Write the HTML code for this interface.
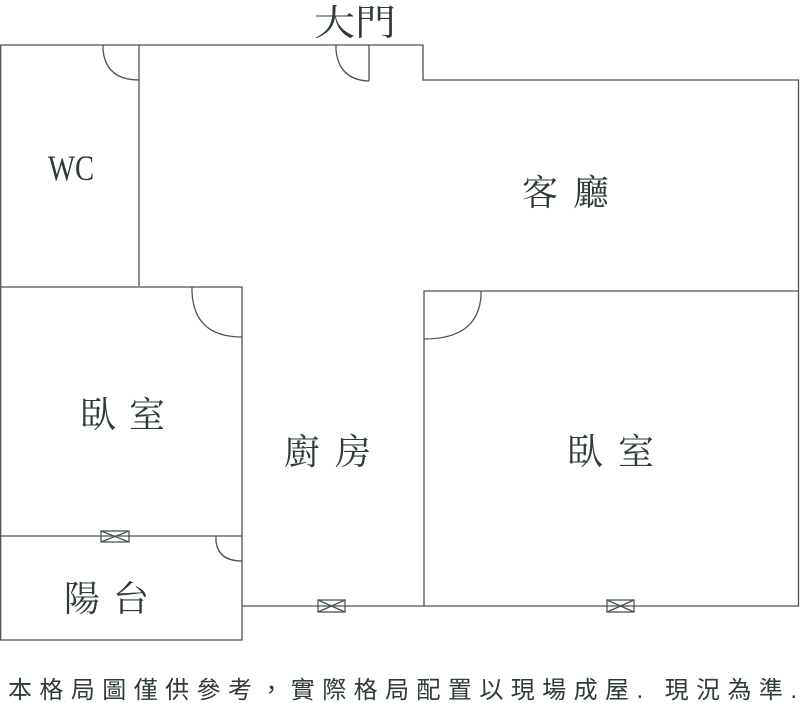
<!DOCTYPE html>
<html><head><meta charset="utf-8"><style>html,body{margin:0;padding:0;background:#fff}svg{display:block}</style></head><body>
<svg width="800" height="703" viewBox="0 0 800 703" xmlns="http://www.w3.org/2000/svg">
<g fill="none" stroke="#4a5556" stroke-width="1.3">
<path d="M0.7,640 V45 H423 V80 H798.5 V606 H242"/>
<path d="M139,45 V286"/>
<path d="M0,287 H242 V640 H0"/>
<path d="M0,536 H242"/>
<path d="M424,606 V291 H798"/>
<path d="M369,45 V81"/>
<path d="M103,45 V50 Q106,80 139,80"/>
<path d="M336,45 V50 Q339,80 369,81"/>
<path d="M192,287 V292 Q194,337 242,337"/>
<path d="M481,291 V296 Q478,339 424,339"/>
<path d="M216,536 V541 Q218,561 242,561"/>
<rect x="101" y="531" width="28" height="11"/>
<path d="M101,531 L129,542 M101,542 L129,531"/>
<rect x="318" y="600" width="27" height="12"/>
<path d="M318,600 L345,612 M318,612 L345,600"/>
<rect x="607" y="600" width="27" height="12"/>
<path d="M607,600 L634,612 M607,612 L634,600"/>
</g>
<g fill="#2f3a3b" font-family="'Liberation Serif','Noto Serif CJK SC',serif" font-size="36">
<text x="314" y="35" textLength="82" lengthAdjust="spacingAndGlyphs">大門</text>
<text x="0" y="0" font-size="30" textLength="46" lengthAdjust="spacingAndGlyphs" transform="translate(48,180) scale(1,1.2)">WC</text>
<text x="522" y="205" textLength="87" lengthAdjust="spacing">客廳</text>
<text x="80" y="427" textLength="85" lengthAdjust="spacing">臥室</text>
<text x="284" y="464" textLength="87" lengthAdjust="spacing">廚房</text>
<text x="567" y="464" textLength="87" lengthAdjust="spacing">臥室</text>
<text x="64" y="611" textLength="85" lengthAdjust="spacing">陽台</text>
</g>
<text x="8" y="698" fill="#2f3a3b" font-family="'Liberation Sans','Noto Sans CJK TC',sans-serif" font-size="24" textLength="789" lengthAdjust="spacing">本格局圖僅供參考，實際格局配置以現場成屋. 現況為準.</text>
</svg>
</body></html>
